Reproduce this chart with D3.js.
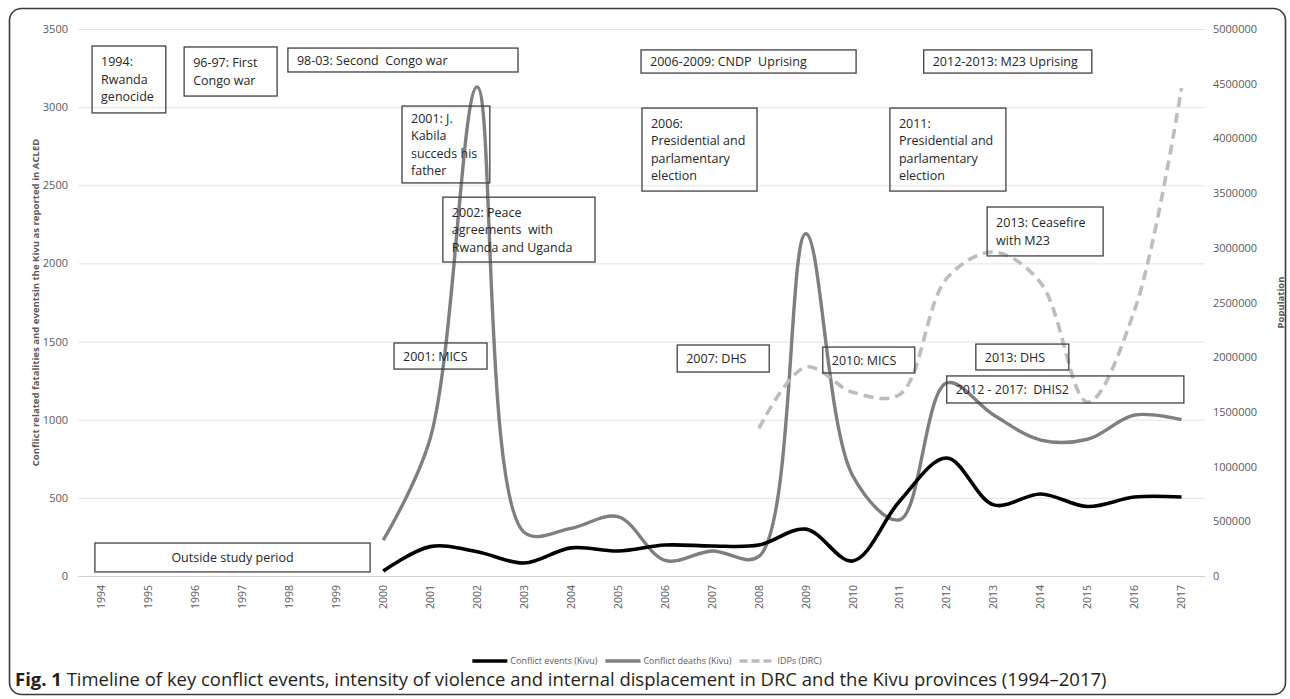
<!DOCTYPE html>
<html><head><meta charset="utf-8">
<script src="https://cdn.jsdelivr.net/npm/d3@7"></script>
<style>
body{margin:0;background:#fff;}
svg{display:block;font-family:"Open Sans",sans-serif;}
</style></head><body>
<svg id="c" width="1290" height="699"></svg>
<script>
// ---------- data ----------
const years = ["1994","1995","1996","1997","1998","1999","2000","2001","2002","2003","2004","2005",
               "2006","2007","2008","2009","2010","2011","2012","2013","2014","2015","2016","2017"];
const conflictEvents = [null,null,null,null,null,null,32,188,155,83,180,160,198,192,198,300,96,480,755,455,525,445,505,505];
const conflictDeaths = [null,null,null,null,null,null,230,880,3130,280,305,380,100,160,125,2190,640,360,1235,1030,870,875,1030,1000];
const idps = [null,null,null,null,null,null,null,null,null,null,null,null,null,null,
              1350000,1910000,1680000,1660000,2720000,2960000,2680000,1590000,2430000,4460000];
const leftTicks = [0,500,1000,1500,2000,2500,3000,3500];
const rightTicks = [0,500000,1000000,1500000,2000000,2500000,3000000,3500000,4000000,4500000,5000000];
const seriesNames = ["Conflict events (Kivu)","Conflict deaths (Kivu)","IDPs (DRC)"];
const leftTitle = "Conflict related fatalities and eventsin the Kivu as reported in ACLED";
const rightTitle = "Population";
const captionBold = "Fig. 1";
const captionText = " Timeline of key conflict events, intensity of violence and internal displacement in DRC and the Kivu provinces (1994\u20132017)";
// annotation boxes, placed in data coordinates (year on x, left-axis value on y)
const annotations = [
  {lines:["1994:","Rwanda","genocide"], x0:1993.80, x1:1995.37, top:3391, bottom:2963},
  {lines:["96-97: First","Congo war"], x0:1995.76, x1:1997.74, top:3385, bottom:3071},
  {lines:["98-03: Second  Congo war"], x0:1997.97, x1:2002.87, top:3378, bottom:3225},
  {lines:["2001: J.","Kabila","succeds his","father"], x0:2000.40, x1:2002.27, top:3007, bottom:2515},
  {lines:["2002: Peace","agreements  with","Rwanda and Uganda"], x0:2001.27, x1:2004.51, top:2424, bottom:2009},
  {lines:["2006-2009: CNDP  Uprising"], x0:2005.49, x1:2010.07, top:3366, bottom:3218},
  {lines:["2006:","Presidential and","parlamentary","election"], x0:2005.51, x1:2007.96, top:2994, bottom:2463},
  {lines:["2011:","Presidential and","parlamentary","election"], x0:2010.79, x1:2013.26, top:2994, bottom:2463},
  {lines:["2012-2013: M23 Uprising"], x0:2011.51, x1:2015.09, top:3366, bottom:3218},
  {lines:["2013: Ceasefire","with M23"], x0:2012.86, x1:2015.33, top:2361, bottom:2048},
  {lines:["2001: MICS"], x0:2000.23, x1:2002.21, top:1491, bottom:1324},
  {lines:["2007: DHS"], x0:2006.26, x1:2008.22, top:1478, bottom:1305},
  {lines:["2010: MICS"], x0:2009.36, x1:2011.32, top:1465, bottom:1299},
  {lines:["2013: DHS"], x0:2012.62, x1:2014.60, top:1484, bottom:1318},
  {lines:["2012 - 2017:  DHIS2"], x0:2012.00, x1:2017.05, top:1280, bottom:1107},
  {lines:["Outside study period"], x0:1993.86, x1:1999.72, top:211, bottom:26, center:true}
];

// ---------- layout ----------
const svg = d3.select("#c");
const plot = {left:78, right:1205, top:29, bottom:576};
const x = d3.scaleBand().domain(years).range([plot.left, plot.right]);
const bw = x.bandwidth();
const cx = d => x(d) + bw/2;
const xYear = d3.scaleLinear().domain([+years[0], +years[years.length-1]])
  .range([cx(years[0]), cx(years[years.length-1])]);
const yL = d3.scaleLinear().domain([0,3500]).range([plot.bottom, plot.top]);
const yR = d3.scaleLinear().domain([0,5000000]).range([plot.bottom, plot.top]);
const tickColor = "#595959";

// frame
svg.append("rect").attr("x",9.5).attr("y",8.5).attr("width",1276).attr("height",686)
  .attr("rx",12).attr("fill","none").attr("stroke","#3a3a3a").attr("stroke-width",1.6);

// left axis + gridlines
const gL = svg.append("g").attr("transform",`translate(${plot.left},0)`)
  .call(d3.axisLeft(yL).tickValues(leftTicks).tickSize(-(plot.right-plot.left)).tickPadding(10).tickFormat(d3.format("d")));
gL.select(".domain").remove();
gL.selectAll(".tick line").attr("stroke", d => d===0 ? "#d4d4d4" : "#e4e4e4").attr("stroke-width",1);
gL.selectAll(".tick text").attr("fill",tickColor).style("font-size","11px").style("font-family","'Open Sans'");

// right axis
const gR = svg.append("g").attr("transform",`translate(${plot.right},0)`)
  .call(d3.axisRight(yR).tickValues(rightTicks).tickSize(0).tickPadding(8).tickFormat(d3.format("d")));
gR.select(".domain").remove();
gR.selectAll(".tick text").attr("fill",tickColor).style("font-size","11px").style("font-family","'Open Sans'");

// x axis
const gX = svg.append("g").attr("transform",`translate(0,${plot.bottom})`)
  .call(d3.axisBottom(x).tickSize(0));
gX.select(".domain").remove();
gX.selectAll(".tick text").attr("fill",tickColor).style("font-size","10.5px").style("font-family","'Open Sans'")
  .attr("transform","rotate(-90)").attr("text-anchor","end").attr("x",-9).attr("y",0).attr("dy","0.35em");

// axis titles
function fitText(sel, target){
  const len = sel.node().getComputedTextLength();
  const fs = parseFloat(sel.style("font-size"));
  sel.style("font-size", (fs*target/len)+"px");
}
const lt = svg.append("text").attr("transform",`translate(36,${(plot.top+plot.bottom)/2}) rotate(-90)`)
  .attr("text-anchor","middle").attr("dy","0.35em").attr("fill",tickColor)
  .style("font-size","10px").style("font-weight","bold").text(leftTitle);
fitText(lt, 328);
svg.append("text").attr("transform",`translate(1281,${(plot.top+plot.bottom)/2}) rotate(-90)`)
  .attr("text-anchor","middle").attr("dy","0.35em").attr("fill",tickColor)
  .style("font-size","9.5px").style("font-weight","bold").text(rightTitle);

// lines
const mk = arr => years.map((yr,i)=>({year:yr, v:arr[i]}));
const lineGen = ys => d3.line().defined(d=>d.v!=null).x(d=>cx(d.year)).y(d=>ys(d.v))
  .curve(d3.curveCatmullRom.alpha(0.5));
const styles = [
  {color:"#000000", width:3.6, dash:null},
  {color:"#7f7f7f", width:3.4, dash:null},
  {color:"#bdbdbd", width:3.6, dash:"10,6"}
];
const gLines = svg.append("g");
gLines.append("path").datum(mk(conflictDeaths)).attr("d",lineGen(yL))
  .attr("fill","none").attr("stroke",styles[1].color).attr("stroke-width",styles[1].width);
gLines.append("path").datum(mk(conflictEvents)).attr("d",lineGen(yL))
  .attr("fill","none").attr("stroke",styles[0].color).attr("stroke-width",styles[0].width);
gLines.append("path").datum(mk(idps)).attr("d",lineGen(yR))
  .attr("fill","none").attr("stroke",styles[2].color).attr("stroke-width",styles[2].width)
  .attr("stroke-dasharray",styles[2].dash);

// annotations
const gA = svg.append("g");
annotations.forEach(a=>{
  const X0 = xYear(a.x0), X1 = xYear(a.x1), Y0 = yL(a.top), Y1 = yL(a.bottom);
  gA.append("rect").attr("x",X0).attr("y",Y0).attr("width",X1-X0).attr("height",Y1-Y0)
    .attr("fill","none").attr("stroke","#404040").attr("stroke-width",1.3);
  const mid = (Y0+Y1)/2, lh = 17.5, n = a.lines.length;
  a.lines.forEach((t,i)=>{
    gA.append("text")
      .attr("x", a.center ? (X0+X1)/2 : X0+9)
      .attr("y", mid + (i-(n-1)/2)*lh)
      .attr("dy","0.36em")
      .attr("text-anchor", a.center ? "middle" : "start")
      .attr("fill","#262626").style("font-size","12.5px").style("white-space","pre")
      .text(t);
  });
});

// legend
const gLeg = svg.append("g");
const items = [];
seriesNames.forEach((name,i)=>{
  const g = gLeg.append("g");
  g.append("line").attr("x1",0).attr("x2",35).attr("y1",0).attr("y2",0)
    .attr("stroke",styles[i].color).attr("stroke-width",styles[i].width)
    .attr("stroke-dasharray", styles[i].dash ? "8,4" : null);
  const t = g.append("text").attr("x",38).attr("dy","0.35em").attr("fill",tickColor)
    .style("font-size","9px").text(name);
  const w = 38 + t.node().getComputedTextLength();
  items.push({g,w});
});
const gap = 8;
const totalW = d3.sum(items, d=>d.w) + gap*(items.length-1);
let start = 647 - totalW/2;
items.forEach(it=>{ it.g.attr("transform",`translate(${start},661)`); start += it.w + gap; });

// caption
const cap = svg.append("text").attr("x",15).attr("y",686).attr("fill","#231f20").style("font-size","16px");
cap.append("tspan").style("font-weight","bold").text(captionBold);
cap.append("tspan").style("white-space","pre").text(captionText);
fitText(cap, 1092);
</script>
</body></html>
